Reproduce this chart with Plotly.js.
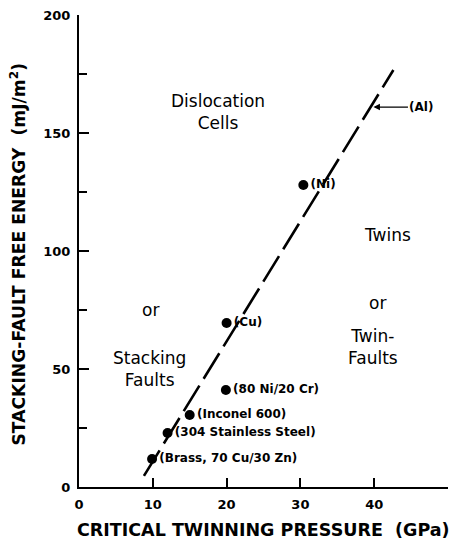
<!DOCTYPE html>
<html>
<head>
<meta charset="utf-8">
<script src="https://cdn.plot.ly/plotly-3.0.1.min.js"></script>
<style>html,body{margin:0;padding:0;background:#fff}#chart{width:456px;height:541px}</style>
</head>
<body>
<div id="chart"></div>
<script>
// ---- data ----
const materials = ['(Brass, 70 Cu/30 Zn)', '(304 Stainless Steel)', '(Inconel 600)', '(80 Ni/20 Cr)', '(Cu)', '(Ni)'];
const twinPressure = [9.9, 12.0, 15.0, 19.9, 20.0, 30.4];      // GPa
const stackingEnergy = [11.9, 22.9, 30.5, 41.1, 69.5, 128.0];   // mJ/m^2

const boundaryX = [8.8, 42.6];
const boundaryY = [4.7, 176.7];

const alLabel = '(Al)';
const alX = [39.9];
const alY = [161];

const regionText = ['Dislocation<br>Cells', 'Twins', 'or', 'or', 'Twin-<br>Faults', 'Stacking<br>Faults'];
const regionX = [18.9, 41.8, 9.7, 40.5, 39.9, 9.6];
const regionY = [159, 106.8, 75, 78, 59.3, 50];

const xTicks = [0, 10, 20, 30, 40, 50];
const yTicks = [0, 50, 100, 150, 200];

const xTitle = 'CRITICAL TWINNING PRESSURE\u00A0\u00A0(GPa)';
const yTitle = 'STACKING-FAULT FREE ENERGY\u00A0\u00A0(mJ/m<sup>2</sup>)';

// ---- styles ----
const labelFont = {family: 'DejaVu Sans', size: 12, color: '#000', weight: 'bold'};
const tickFont = {family: 'DejaVu Sans', size: 13, color: '#000', weight: 'bold'};
const xTitleFont = {family: 'DejaVu Sans', size: 17.5, color: '#000', weight: 'bold'};
const yTitleFont = {family: 'DejaVu Sans', size: 17.2, color: '#000', weight: 'bold'};
const regionFont = {family: 'DejaVu Sans', size: 17, color: '#000'};

const traces = [
  {
    x: boundaryX, y: boundaryY, mode: 'lines', type: 'scatter',
    line: {color: '#000', width: 2.6, dash: '30px,8px'},
    hoverinfo: 'skip', showlegend: false
  },
  {
    x: twinPressure, y: stackingEnergy, mode: 'markers+text', type: 'scatter',
    text: materials, textposition: 'middle right', textfont: labelFont,
    marker: {color: '#000', size: 10},
    cliponaxis: false, showlegend: false
  }
];

const annotations = regionText.map((t, i) => ({
  x: regionX[i], y: regionY[i], xref: 'x', yref: 'y', text: t, showarrow: false,
  font: regionFont, align: 'center', xanchor: 'center', yanchor: 'middle'
}));

annotations.push({
  x: alX[0], y: alY[0], xref: 'x', yref: 'y', text: alLabel, showarrow: true,
  ax: 48, ay: 0, arrowhead: 2, arrowsize: 1, arrowwidth: 1.3, arrowcolor: '#000',
  standoff: 0, font: labelFont
});

annotations.push({
  x: 0.499, y: -0.091, xref: 'paper', yref: 'paper', text: xTitle, showarrow: false,
  font: xTitleFont, xanchor: 'center', yanchor: 'middle'
});
annotations.push({
  x: -0.166, y: 0.494, xref: 'paper', yref: 'paper', text: yTitle, showarrow: false,
  font: yTitleFont, xanchor: 'center', yanchor: 'middle', textangle: -90
});

const layout = {
  width: 456, height: 541,
  margin: {l: 79, r: 8, t: 15, b: 54},
  paper_bgcolor: '#fff', plot_bgcolor: '#fff',
  showlegend: false,
  xaxis: {
    range: [0, 50], tickvals: xTicks, ticktext: xTicks.map(String),
    ticks: 'inside', ticklen: 9, tickwidth: 2, tickcolor: '#000',
    showline: true, linewidth: 2, linecolor: '#000',
    showgrid: false, zeroline: false, tickfont: tickFont, ticklabelstandoff: 4
  },
  yaxis: {
    range: [0, 200], tickvals: yTicks, ticktext: yTicks.map(String),
    ticks: 'inside', ticklen: 10, tickwidth: 2, tickcolor: '#000',
    minor: {ticks: 'inside', ticklen: 8, tickwidth: 2, tickcolor: '#000', dtick: 25, tick0: 0, showgrid: false},
    showline: true, linewidth: 2, linecolor: '#000',
    showgrid: false, zeroline: false, tickfont: tickFont, ticklabelstandoff: 4
  },
  annotations: annotations
};

Plotly.newPlot('chart', traces, layout, {displayModeBar: false, staticPlot: true});
</script>
</body>
</html>
